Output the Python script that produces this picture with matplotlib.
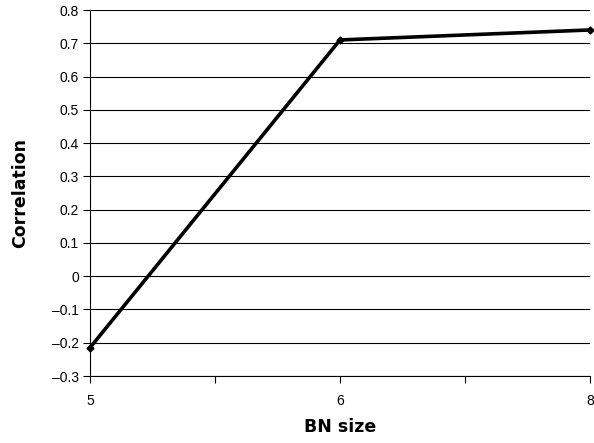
import matplotlib
matplotlib.use("Agg")
import matplotlib.pyplot as plt
import numpy as np

categories = ["5", "6", "8"]
correlation = [-0.215, 0.71, 0.74]
yticks = [-0.3, -0.2, -0.1, 0, 0.1, 0.2, 0.3, 0.4, 0.5, 0.6, 0.7, 0.8]

plt.rcParams['font.family'] = ['Liberation Sans', 'DejaVu Sans']

fig = plt.figure(figsize=(5.94, 4.43), dpi=100)
ax = fig.add_axes([90/594, 1-376/443, 500/594, 366/443])

x = np.arange(len(categories))
ax.plot(x, correlation, color='black', lw=2.6, marker='D', ms=3.5, clip_on=False, zorder=3)

ax.set_xlim(0, len(categories) - 1)
ax.set_ylim(-0.3, 0.8)
ax.set_yticks(yticks)
ax.set_yticklabels([("–" + f"{abs(v):g}") if v < 0 else f"{v:g}" for v in yticks], fontsize=10)
ax.set_xticks(x)
ax.set_xticklabels(categories, fontsize=10)
ax.set_xticks(np.arange(0.5, len(categories) - 1, 1.0), minor=True)
ax.tick_params(axis='x', which='both', direction='out', length=5, width=0.8, pad=8)
ax.tick_params(axis='y', direction='out', length=5, width=0.8, pad=3)

for v in yticks:
    ax.axhline(v, color='black', lw=0.8, zorder=1)

for s in ['top', 'right']:
    ax.spines[s].set_visible(False)
for s in ['left', 'bottom']:
    ax.spines[s].set_linewidth(0.8)

ax.set_xlabel("BN size", fontsize=12.5, fontweight='bold', labelpad=7,
              family=['DejaVu Sans'])
ax.set_ylabel("Correlation", fontsize=12.5, fontweight='bold', labelpad=16,
              family=['DejaVu Sans'])

fig.savefig("out.png", dpi=100)
